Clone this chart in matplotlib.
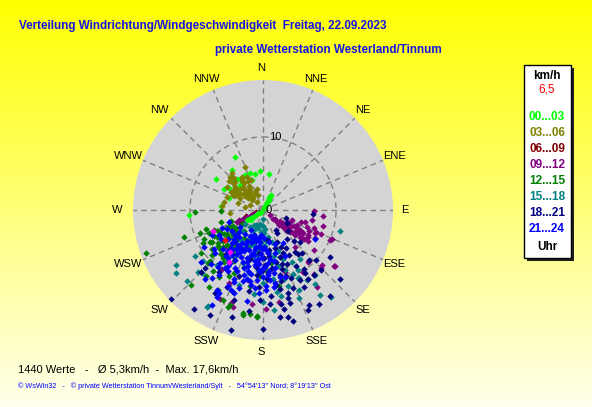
import numpy as np
import matplotlib.pyplot as plt
from matplotlib.patches import Rectangle

# wind direction (deg, 0 = N, clockwise) and speed (km/h), per 3-hour block
# 00-03 is kept in two parts: the scatter to the NW and the calm streak through the centre
dir_00 = [332, 348, 340, 10, 323, 303, 322, 303, 275, 266, 298, 320, 333, 317, 310, 300, 340, 355, 315, 290]
spd_00 = [8.2, 5.1, 5.4, 5.0, 5.3, 7.7, 7.0, 5.5, 5.8, 10.2, 6.0, 5.6, 5.4, 4.7, 4.5, 4.0, 4.4, 5.3, 6.1, 4.9]
dir_00_calm = [28, 27, 29, 28, 30, 27, 28, 29, 32, 31, 33, 30,
               236, 237, 235, 236, 238, 236, 237, 232, 233, 231]
spd_00_calm = [0.3, 0.6, 0.9, 1.2, 1.5, 1.8, 2.1, 2.3, 0.5, 1.0, 1.6, 2.0,
               0.4, 0.8, 1.2, 1.6, 2.0, 2.3, 2.6, 0.6, 1.4, 2.2]

dir_03 = [337, 315, 311, 324, 333, 339, 302, 300, 297, 313, 320, 323, 275, 264, 282, 290, 310, 313, 315, 327,
          336, 343, 285, 280, 291, 317, 320, 326, 305, 330, 318, 296, 308, 345, 325,
          318, 325, 305, 312, 298, 330, 322, 308, 315, 300,
          319, 328, 306, 311, 301, 334, 321, 309, 316, 303, 326, 314]
spd_03 = [6.4, 6.4, 6.1, 4.5, 4.4, 4.4, 4.8, 4.1, 3.5, 3.0, 2.1, 1.4, 5.7, 4.5, 5.5, 5.3, 5.0, 4.3, 3.5, 3.3,
          2.7, 2.2, 3.5, 2.5, 1.9, 5.9, 6.7, 5.2, 3.9, 3.8, 2.8, 4.6, 3.2, 3.0, 2.4,
          3.7, 4.9, 3.9, 5.6, 4.4, 3.6, 2.9, 2.6, 5.4, 5.0,
          4.2, 5.4, 4.5, 3.4, 3.9, 5.1, 3.1, 4.9, 6.0, 5.9, 3.5, 2.0]

dir_06 = [248, 250, 246, 240, 252, 244]
spd_06 = [1.5, 2.5, 3.2, 2.0, 1.0, 3.6]

dir_09 = [126, 130, 129, 129, 128, 116, 109, 114, 118, 106, 102, 91, 105, 112, 114, 119, 113, 128, 139, 128,
          133, 139, 96, 114, 135, 141, 124, 122, 120, 110, 125, 132, 127, 118, 121, 108,
          131, 128, 130, 127, 126,
          124, 127, 120, 117, 123, 126, 119, 121, 115, 112, 125, 118, 122, 116, 111, 128,
          247, 248, 247, 246, 247, 248, 246, 245,
          197, 192, 206, 199, 128, 145, 170, 178, 187, 138, 147, 215, 226, 205, 185, 160]
spd_09 = [1.2, 2.5, 3.6, 4.7, 5.6, 3.6, 4.2, 5.1, 5.8, 6.0, 6.8, 7.0, 8.5, 8.6, 7.8, 7.1, 10.2, 8.8, 9.4, 12.5,
          11.0, 6.7, 8.3, 10.1, 11.3, 11.2, 4.2, 5.3, 6.4, 7.4, 6.9, 3.0, 2.0, 4.8, 3.9, 5.5,
          1.8, 3.1, 4.2, 5.0, 6.2,
          2.8, 3.9, 4.4, 5.3, 5.9, 6.6, 6.1, 7.2, 6.9, 7.9, 7.5, 8.1, 3.3, 4.0, 6.4, 4.5,
          0.6, 1.2, 1.8, 2.4, 3.0, 3.5, 3.9, 2.8,
          13.9, 9.8, 13.5, 13.4, 12.4, 12.8, 12.8, 13.5, 12.9, 9.4, 10.1, 9.8, 7.3, 11.0, 7.2, 9.0]

dir_12 = [268, 268, 251, 250, 251, 241, 239, 251, 224, 226, 200, 191, 187, 204, 231, 183, 171, 168, 226, 215,
          199, 191, 183,
          225, 230, 235, 228, 238, 232, 222, 218, 240, 236, 227, 215, 210, 220, 233, 242, 212, 205, 198, 207,
          213, 219, 195, 202, 245, 229, 223, 237, 214, 190, 183, 176, 200, 209, 221, 235, 244, 248, 254,
          230, 236, 241, 226, 221, 233, 239, 244, 228, 218, 224, 247, 235, 229, 242, 217, 212, 238, 231, 226,
          250, 245, 234, 220]
spd_12 = [9.3, 5.7, 4.6, 17.1, 11.4, 9.4, 8.5, 8.2, 14.2, 10.5, 14.1, 14.4, 14.3, 13.5, 7.9, 14.7, 7.4, 10.7,
          10.1, 12.9, 13.8, 14.6, 14.6,
          5.5, 6.0, 5.2, 4.8, 6.3, 7.0, 6.6, 5.9, 5.0, 4.4, 7.5, 7.2, 8.0, 8.6, 8.8, 7.6, 6.3, 9.5, 8.2, 10.2,
          11.0, 10.8, 6.7, 5.4, 6.8, 9.3, 3.9, 3.5, 4.6, 10.5, 9.1, 8.4, 12.0, 12.6, 12.0, 10.3, 9.0, 7.3, 6.0,
          5.4, 5.9, 6.5, 6.9, 5.3, 4.9, 7.3, 5.6, 7.9, 6.6, 8.3, 8.1, 6.0, 4.7, 4.6, 8.9, 7.6, 8.2, 6.4, 5.0,
          9.2, 5.2, 7.6, 7.0]

dir_15 = [105, 234, 227, 226, 236, 210, 146, 156, 152, 143, 238, 224, 142, 141, 174, 180, 151, 210,
          186, 177, 190, 185, 182, 195, 200, 170, 165, 188, 205, 175, 160, 158, 165, 172, 180, 193, 201,
          214, 220, 230, 150, 162, 168, 186, 198, 208, 216, 225, 232, 212, 218, 204,
          178, 184, 192, 199, 206, 172, 167, 188, 196, 203, 181, 174, 160, 155, 148, 153, 163, 170, 145, 158,
          211, 218, 190, 185]
spd_15 = [10.9, 14.7, 14.3, 12.3, 11.2, 15.3, 14.0, 12.0, 10.6, 8.4, 14.1, 12.0, 15.1, 11.4, 13.8, 12.6, 8.1, 15.1,
          4.1, 5.0, 2.0, 3.0, 1.3, 2.5, 3.5, 3.8, 4.5, 5.5, 4.4, 2.6, 6.0, 7.2, 8.0, 9.5, 10.0, 8.8, 7.7,
          8.5, 9.8, 10.8, 9.5, 11.0, 12.0, 11.5, 10.8, 6.2, 5.1, 4.0, 3.2, 2.4, 3.0, 2.2,
          3.2, 4.6, 3.9, 5.1, 5.6, 5.9, 6.5, 6.2, 4.9, 3.0, 2.2, 4.3, 8.8, 9.7, 11.3, 10.5, 9.9, 11.4, 12.4, 13.0,
          7.4, 6.8, 7.0, 8.4]

dir_18 = [226, 215, 207, 225, 180, 171, 167, 154, 142, 132, 95, 131, 109, 150, 125, 142, 136, 119, 146, 141,
          195, 196, 225, 165, 149, 156, 168, 164, 163,
          155, 160, 165, 170, 175, 158, 150, 145, 162, 172, 178, 185, 190, 182, 168, 176, 152, 147, 138, 135,
          157, 185, 195, 200, 205, 210, 215, 220, 198, 188, 140, 130, 170, 162,
          150, 156, 161, 166, 171, 177, 183, 146, 152, 159, 164, 169, 175, 181, 143, 149, 154, 160, 166, 172,
          137, 133, 179, 187]
spd_18 = [17.6, 16.5, 16.1, 12.0, 16.3, 14.8, 15.0, 14.5, 15.0, 14.1, 6.9, 6.7, 3.4, 3.7, 11.2, 11.3, 11.5, 3.7,
          3.3, 7.7, 17.0, 15.2, 11.3, 15.8, 15.0, 15.0, 13.8, 13.3, 11.9,
          6.5, 7.8, 9.2, 10.4, 8.6, 10.1, 8.9, 9.8, 5.4, 6.3, 7.5, 9.0, 11.2, 12.3, 11.1, 12.9, 12.0, 11.2, 8.0,
          6.0, 4.8, 5.9, 7.0, 9.6, 11.7, 13.2, 10.4, 7.8, 13.0, 14.0, 5.2, 4.5, 4.2, 8.5,
          7.1, 8.1, 9.6, 10.0, 8.0, 9.4, 10.6, 10.4, 10.9, 11.5, 12.5, 13.1, 11.8, 8.3, 7.2, 6.0, 5.6, 6.9, 7.4, 5.5,
          9.3, 10.0, 6.6, 7.8]

dir_21 = [208, 208, 242, 219, 228, 178, 185, 119, 170, 149, 210,
          195, 200, 205, 190, 210, 215, 220, 225, 230, 235, 188, 182, 176, 172, 198, 203, 212, 218, 224, 196,
          186, 180, 174, 192, 207, 217, 228, 236, 240, 244, 232, 226, 214, 205, 199, 190, 183, 168, 165, 160,
          177, 185, 200, 213, 222, 209, 197, 191, 184, 178, 230, 238, 246, 250, 193, 202, 220, 211, 233, 155, 162,
          187, 193, 199, 204, 211, 216, 221, 181, 175, 170, 166, 190, 195, 201, 206, 213, 219, 224, 228, 185,
          179, 173, 168, 194, 200, 207, 214, 222, 189, 183, 176, 171, 197, 203, 210, 217, 192, 186, 180, 174,
          209, 215, 198, 191, 184, 206, 201, 188, 194, 212, 218, 223, 178, 172, 196, 205, 182, 189, 202, 208]
spd_21 = [14.8, 13.5, 5.6, 9.4, 8.9, 7.8, 9.6, 8.2, 4.4, 5.3, 12.6,
          6.4, 5.8, 7.1, 5.2, 6.0, 7.5, 6.8, 5.6, 6.2, 7.0, 7.6, 6.0, 5.5, 6.8, 8.3, 9.0, 8.5, 9.9, 10.3, 10.1,
          10.8, 9.2, 9.7, 4.3, 4.8, 4.1, 4.5, 5.1, 6.9, 7.8, 8.6, 7.7, 10.8, 11.5, 12.0, 12.6, 11.4, 8.1, 6.1, 4.9,
          3.8, 3.4, 3.6, 5.4, 4.9, 6.6, 7.4, 8.9, 8.2, 10.4, 11.1, 9.6, 6.2, 5.0, 9.7, 10.6, 12.4, 3.2, 3.9, 7.0, 9.6,
          5.0, 6.1, 4.6, 5.7, 7.0, 8.2, 7.4, 6.6, 7.3, 8.8, 9.4, 9.9, 8.0, 7.6, 8.9, 9.5, 8.1, 6.2, 5.2, 4.4,
          5.1, 6.0, 7.2, 3.9, 4.2, 4.0, 6.5, 5.8, 7.1, 8.5, 8.9, 10.1, 11.2, 10.3, 9.7, 11.7, 5.5, 6.7, 7.9, 8.4,
          7.8, 5.9, 6.9, 6.3, 7.4, 5.2, 4.7, 3.9, 8.6, 9.1, 7.1, 6.0, 10.9, 10.6, 9.3, 6.2, 5.4, 10.4, 11.8, 12.9]

dir_mag = [247, 218, 213]
spd_mag = [7.4, 7.3, 8.5]
dir_now = [232]
spd_now = [6.6]

groups = [(dir_00, spd_00, '#00ff00'), (dir_03, spd_03, '#808000'), (dir_06, spd_06, '#800000'),
          (dir_09, spd_09, '#800080'), (dir_00_calm, spd_00_calm, '#00ff00'),
          (dir_12, spd_12, '#008000'), (dir_15, spd_15, '#008080'),
          (dir_18, spd_18, '#000080'), (dir_21, spd_21, '#0000ff'),
          (dir_mag, spd_mag, '#ff00ff'), (dir_now, spd_now, '#ff0000')]

compass = ['N', 'NNE', 'NE', 'ENE', 'E', 'ESE', 'SE', 'SSE',
           'S', 'SSW', 'SW', 'WSW', 'W', 'WNW', 'NW', 'NNW']
legend_labels = ['00...03', '03...06', '06...09', '09...12', '12...15', '15...18', '18...21', '21...24']
legend_colors = ['#00ff00', '#808000', '#800000', '#800080', '#008000', '#008080', '#000080', '#0000ff']
rmax = 17.8

W, H = 592, 407
fig = plt.figure(figsize=(W / 100, H / 100), dpi=100)

def fx(px):
    return px / W

def fy(py):
    return 1 - py / H

# yellow gradient background
bg = fig.add_axes([0, 0, 1, 1])
t = np.linspace(0, 1, 256)[:, None, None]
top = np.array([1.0, 1.0, 0.0])
bot = np.array([1.0, 1.0, 0.93])
bg.imshow(top + (bot - top) * t, aspect='auto', extent=[0, 1, 0, 1])
bg.axis('off')

cx, cy, R = 263, 210, 130
ax = fig.add_axes([fx(cx - R), fy(cy + R), 2 * R / W, 2 * R / H], projection='polar')
ax.set_facecolor('#d4d4d4')
ax.set_theta_zero_location('N')
ax.set_theta_direction(-1)
ax.set_xticks(np.deg2rad(np.arange(16) * 22.5))
ax.set_xticklabels([])
ax.set_yticks([10])
ax.set_yticklabels([])
ax.set_ylim(0, rmax)
ax.grid(True, color='#808080', linestyle=(0, (4, 3)), linewidth=1)
ax.spines['polar'].set_visible(False)

for d, s, c in groups:
    ax.plot(np.deg2rad(d), s, 'D', color=c, ms=3.3, mew=0, linestyle='none')

for i, lab in enumerate(compass):
    a = np.deg2rad(i * 22.5)
    ax.annotate(lab, xy=(0, 0), xytext=(144 * np.sin(a) - 2, 142 * np.cos(a)),
                textcoords='offset pixels', ha='center', va='center', fontsize=8,
                family='Liberation Sans', annotation_clip=False)
ax.text(np.deg2rad(5), 10, '10', ha='left', va='center', fontsize=8, family='Liberation Sans')
ax.text(0, 0, ' 0', ha='left', va='center', fontsize=8, family='Liberation Sans')

fig.text(fx(19), fy(25.5), 'Verteilung Windrichtung/Windgeschwindigkeit  Freitag, 22.09.2023',
         color='#1414e6', fontsize=8.4, fontweight='bold', va='center', family='Liberation Sans')
fig.text(fx(215), fy(49.5), 'private Wetterstation Westerland/Tinnum',
         color='#1414e6', fontsize=8.4, fontweight='bold', va='center', family='Liberation Sans')

# legend box with shadow
fig.add_artist(Rectangle((fx(527), fy(261)), 47 / W, 193 / H, transform=fig.transFigure,
                         facecolor='#202020', edgecolor='none'))
fig.add_artist(Rectangle((fx(524), fy(258)), 47 / W, 193 / H, transform=fig.transFigure,
                         facecolor='white', edgecolor='black', linewidth=1))
fig.text(fx(547), fy(76), 'km/h', fontsize=8.5, fontweight='bold', ha='center', va='center',
         family='Liberation Sans')
fig.text(fx(547), fy(90), '6,5', fontsize=8.5, color='red', ha='center', va='center',
         family='Liberation Sans')
for i, (lab, c) in enumerate(zip(legend_labels, legend_colors)):
    fig.text(fx(547), fy(117.5 + 16 * i), lab, fontsize=8.5, fontweight='bold', color=c,
             ha='center', va='center', family='Liberation Sans')
fig.text(fx(547), fy(246.5), 'Uhr', fontsize=8.5, fontweight='bold', ha='center', va='center',
         family='Liberation Sans')

fig.text(fx(18), fy(369), '1440 Werte   -   Ø 5,3km/h  -  Max. 17,6km/h', fontsize=8,
         va='center', family='Liberation Sans')
fig.text(fx(18), fy(386),
         "© WsWin32   -   © private Wetterstation Tinnum/Westerland/Sylt   -   54°54'13'' Nord; 8°19'13'' Ost",
         fontsize=5.2, color='#0000ff', va='center', family='Liberation Sans')

fig.savefig('out.png', dpi=100)
